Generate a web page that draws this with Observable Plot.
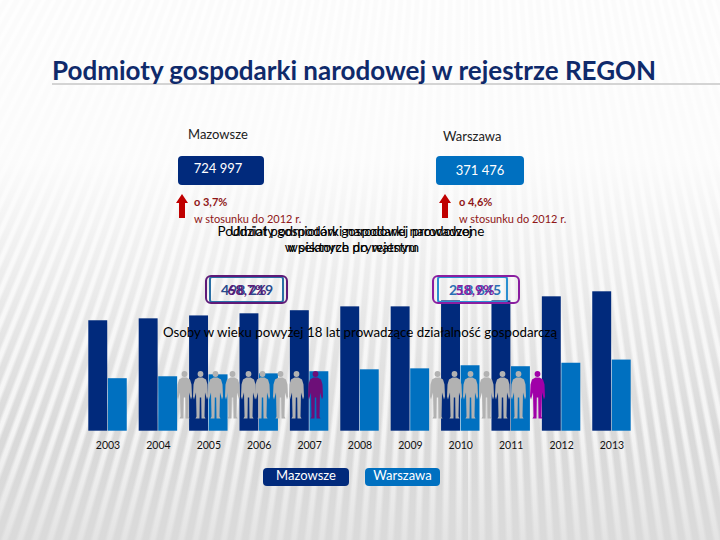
<!DOCTYPE html>
<html lang="pl"><head><meta charset="utf-8">
<script src="https://cdn.jsdelivr.net/npm/d3@7"></script>
<script src="https://cdn.jsdelivr.net/npm/@observablehq/plot@0.6"></script>
<style>
html,body{margin:0;padding:0}
body{width:720px;height:540px;overflow:hidden;position:relative;font-family:Lato,"Noto Sans",sans-serif;
background:
 linear-gradient(180deg,rgba(255,255,255,.9) 0%,rgba(253,253,253,.95) 30%,rgba(250,250,250,.55) 55%,rgba(235,235,235,.15) 80%,rgba(220,220,220,.7) 100%),
 repeating-conic-gradient(from 180deg at 65% -150%,#d6d6d6 0deg,#d6d6d6 .2deg,#f6f6f6 .33deg,#f6f6f6 .45deg,#d6d6d6 .58deg);}
.t{position:absolute;white-space:nowrap;line-height:1}
.c{transform:translateX(-50%);text-align:center}
.box{position:absolute;box-sizing:border-box;border-radius:4px;color:#fff;text-align:center}
.ov{position:absolute;box-sizing:border-box;background:transparent}
#chart,#people{position:absolute;left:0;top:0}
#chart svg,#people svg{display:block;background:transparent}
</style></head><body>
<div id="chart"></div><div id="people"></div>
<div id="labels"></div>
<script>
const years=["2003","2004","2005","2006","2007","2008","2009","2010","2011","2012","2013"];
const mazowsze=[575000,585000,600000,611000,627000,647000,647000,678000,678000,699000,724997];
const warszawa=[275000,285000,295000,300000,311000,321000,326000,342000,337000,355000,371476];
const seriesNames=["Mazowsze","Warszawa"];
const seriesColors=["#012a7c","#0070c0"];
const peopleLeft=[184,200,215,232,248,262,280,296,315];
const peopleRight=[437,454,470,486,502,518,537];
const peopleInk=["#b2b2b2","#b2b2b2","#b2b2b2","#b2b2b2","#b2b2b2","#b2b2b2","#b2b2b2","#b2b2b2","#6d0f78"];
const peopleInkR=["#b2b2b2","#b2b2b2","#b2b2b2","#b2b2b2","#b2b2b2","#b2b2b2","#a000a8"];

const rows=years.flatMap((y,i)=>[
 {year:y,s:seriesNames[0],v:mazowsze[i]},
 {year:y,s:seriesNames[1],v:warszawa[i]}]);

document.getElementById("chart").append(Plot.plot({
 width:720,height:540,marginLeft:88,marginRight:89,marginTop:0,marginBottom:109,
 style:{background:"transparent",fontFamily:"Lato,'Noto Sans',sans-serif"},
 fx:{domain:years,paddingInner:.225,paddingOuter:0,round:false,label:null,axis:null},
 x:{domain:seriesNames,padding:0,round:false,axis:null,label:null},
 y:{domain:[0,2231955],axis:null,label:null},
 color:{domain:seriesNames,range:seriesColors},
 marks:[
  Plot.barY(rows,{fx:"year",x:"s",y:"v",fill:"s",inset:.3}),
  Plot.axisFx({domain:years,anchor:"bottom",label:null,tickSize:0,tickPadding:10,fontSize:10.5,fill:"#111"})
 ]}));

const person={draw(c,size){
 const k=Math.sqrt(size/Math.PI)/24;
 const P=(x,y)=>[x*k,y*k];
 c.moveTo(...P(2.9,-20.5));c.arc(0,-20.5*k,2.9*k,0,Math.PI*2);
 const pts=[[-2,-17],[2,-17],[5.5,-15],[7,-10],[7.5,2],[6.5,5],[4.5,-2],[4,22],[5,24],[1,24],[.7,3],[-.7,3],[-1,24],[-5,24],[-4,22],[-4.5,-2],[-6.5,5],[-7.5,2],[-7,-10],[-5.5,-15]];
 pts.forEach((p,i)=>i?c.lineTo(...P(...p)):c.moveTo(...P(...p)));
 c.closePath();
}};
const people=[...peopleLeft.map((x,i)=>({x,ink:peopleInk[i]})),...peopleRight.map((x,i)=>({x,ink:peopleInkR[i]}))];
document.getElementById("people").append(Plot.plot({
 width:720,height:540,margin:0,
 style:{background:"transparent"},
 x:{type:"identity",axis:null},y:{type:"identity",axis:null},
 marks:[Plot.dot(people,{x:"x",y:()=>394,r:24,symbol:()=>person,fill:"ink",stroke:"none"})]
}));

const texts=[
 {s:"Podmioty gospodarki narodowej w rejestrze REGON",x:52,y:70,z:26,c:"#0f2a6b",w:700},
 {s:"Mazowsze",x:188,y:134,z:13,c:"#222"},
 {s:"Warszawa",x:443,y:136,z:13,c:"#222"},
 {s:"o  3,7%",x:194,y:201,z:11,c:"#8f1616",w:700},
 {s:"w stosunku do 2012 r.",x:194,y:218,z:11,c:"#8f1616"},
 {s:"o  4,6%",x:459,y:201,z:11,c:"#8f1616",w:700},
 {s:"w stosunku do 2012 r.",x:459,y:218,z:11,c:"#8f1616"},
 {s:"Podmioty gospodarki narodowej prowadzone",x:351,y:232,z:13.5,c:"#000",m:1},
 {s:"Udział podmiotów gospodarki narodowej",x:351,y:232,z:13.5,c:"#000",m:1},
 {s:"w sektorze prywatnym",x:352,y:248,z:13.5,c:"#000",m:1},
 {s:"wpisanych do rejestru",x:352,y:248,z:13.5,c:"#000",m:1},
 {s:"498 219",x:247,y:290,z:14,c:"#2a4b8d",m:1,w:700},
 {s:"68,7%",x:247,y:290,z:14,c:"#5d1a78",m:1,w:700},
 {s:"218 845",x:475,y:290,z:14,c:"#2a6fb5",m:1,w:700},
 {s:"58,9%",x:475,y:290,z:14,c:"#8a1ea0",m:1,w:700},
 {s:"Osoby w wieku powyżej 18 lat prowadzące działalność gospodarczą",x:360,y:333,z:13.3,c:"#000",m:1}
];
const boxes=[
 {s:"724 997",x:178,y:156,w:86,h:29,bg:"#012a7c",z:13,lh:25,pr:6},
 {s:"371 476",x:436,y:156,w:88,h:29,bg:"#0070c0",z:13,lh:28,pr:0},
 {s:"Mazowsze",x:263,y:468,w:86,h:18,bg:"#012a7c",z:13,lh:14,pr:0},
 {s:"Warszawa",x:365,y:468,w:75,h:18,bg:"#0070c0",z:13,lh:14,pr:0}
];
const outlines=[
 {x:209,y:276,w:75,h:27,c:"#2a6fa5",b:2.5,rx:3},
 {x:205,y:275,w:83,h:29,c:"#5f1a78",b:2.5,rx:6},
 {x:437,y:276,w:71,h:27,c:"#2a8fd0",b:2.5,rx:3},
 {x:432,y:275,w:88,h:29,c:"#8a1ea0",b:2.5,rx:6}
];
const arrows=[{x:181.5,c:"#c00000"},{x:445,c:"#c00000"}];
const L=document.getElementById("labels");
const rule=document.createElement("div");
rule.style.cssText="position:absolute;left:52px;top:83px;width:668px;height:2px;background:#d4d4d4";L.append(rule);
for(const o of outlines){const d=document.createElement("div");d.className="ov";
 d.style.cssText=`left:${o.x}px;top:${o.y}px;width:${o.w}px;height:${o.h}px;border:${o.b}px solid ${o.c};border-radius:${o.rx}px`;L.append(d);}
for(const b of boxes){const d=document.createElement("div");d.className="box";
 d.textContent=b.s;d.style.cssText=`left:${b.x}px;top:${b.y}px;width:${b.w}px;height:${b.h}px;background:${b.bg};font-size:${b.z}px;line-height:${b.lh}px;padding-right:${b.pr}px`;L.append(d);}
for(const t of texts){const d=document.createElement("div");d.className="t"+(t.m?" c":"");
 d.textContent=t.s;d.style.cssText=`left:${t.x}px;top:${t.y-t.z/2}px;font-size:${t.z}px;color:${t.c};font-weight:${t.w||400}`;L.append(d);}
for(const a of arrows){const s=document.createElementNS("http://www.w3.org/2000/svg","svg");
 s.setAttribute("width",14);s.setAttribute("height",24);s.style.cssText=`position:absolute;left:${a.x-7}px;top:194px`;
 s.innerHTML=`<polygon points="7,0 13,9 10,9 10,24 4,24 4,9 1,9" fill="${a.c}"/>`;L.append(s);}
</script></body></html>
